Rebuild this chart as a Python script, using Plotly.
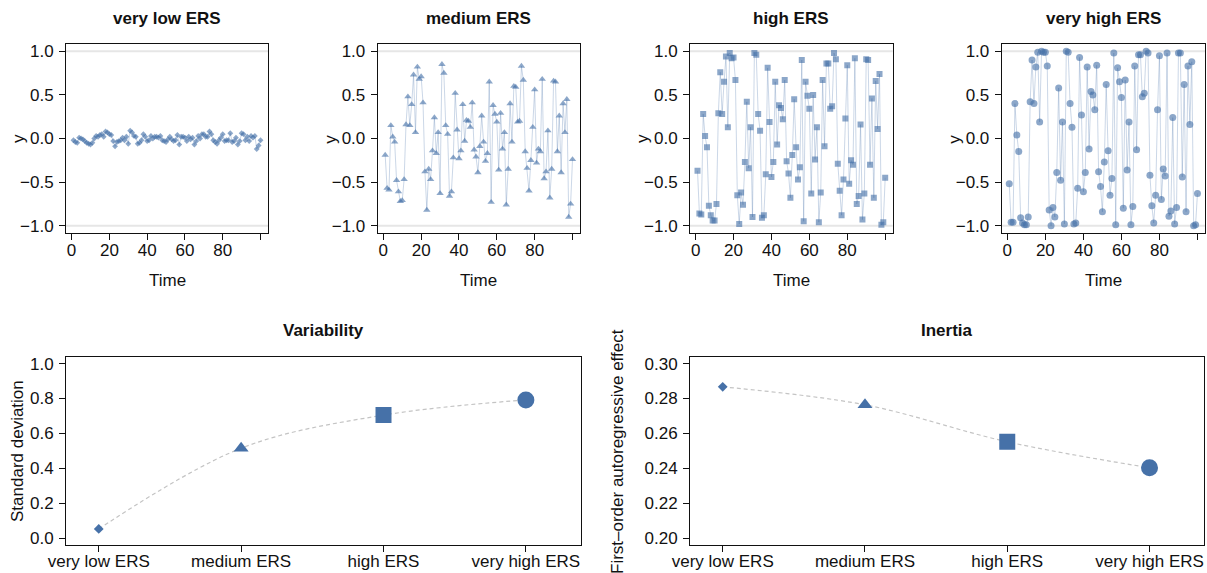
import plotly.graph_objects as go

# ---------------- data ----------------
time = list(range(1, 101))

very_low = [-0.02, -0.04, -0.05, 0.01, 0.00, -0.01, -0.03, -0.05, -0.06, -0.07,
            -0.05, 0.00, 0.03, 0.02, 0.04, 0.05, 0.02, 0.08, 0.07, 0.05,
            0.04, -0.03, -0.09, -0.04, -0.03, -0.02, 0.01, -0.02, 0.02, -0.06,
            0.09, 0.07, 0.03, 0.02, -0.06, -0.05, -0.02, 0.05, 0.02, -0.03,
            -0.02, 0.03, 0.00, 0.02, 0.02, 0.01, 0.03, -0.02, -0.03, -0.04,
            -0.01, 0.02, -0.01, -0.03, -0.02, 0.04, -0.07, 0.02, 0.02, 0.01,
            -0.03, 0.02, -0.01, 0.01, -0.07, -0.03, 0.03, 0.00, 0.05, 0.05,
            0.02, 0.02, 0.08, 0.05, -0.02, -0.04, -0.06, -0.02, 0.01, 0.05,
            -0.03, -0.02, -0.02, 0.06, -0.04, -0.03, 0.01, -0.07, -0.03, 0.06,
            0.05, -0.02, 0.02, -0.03, 0.03, 0.01, 0.03, -0.12, -0.08, -0.02]

medium = [-0.19, -0.57, -0.59, 0.15, 0.02, -0.04, -0.48, -0.61, -0.72, -0.71,
          -0.47, 0.16, 0.48, 0.15, 0.39, 0.73, 0.07, 0.82, 0.68, 0.71,
          0.41, -0.38, -0.82, -0.35, -0.47, -0.14, 0.24, -0.17, 0.07, -0.63,
          0.85, 0.75, 0.15, 0.05, -0.66, -0.61, -0.22, 0.52, 0.10, -0.23,
          -0.14, 0.39, -0.03, 0.21, 0.20, 0.13, 0.41, -0.13, -0.21, -0.39,
          -0.09, 0.26, -0.04, -0.26, -0.17, 0.65, -0.73, 0.38, 0.28, 0.19,
          -0.36, 0.29, -0.12, 0.07, -0.76, -0.35, 0.40, -0.04, 0.60, 0.59,
          0.19, 0.20, 0.83, 0.67, -0.15, -0.34, -0.60, -0.25, 0.13, 0.56,
          -0.28, -0.12, -0.15, 0.68, -0.46, -0.38, 0.09, -0.68, -0.35, 0.66,
          0.65, -0.15, 0.26, -0.39, 0.40, 0.07, 0.45, -0.90, -0.75, -0.24]

high = [-0.37, -0.86, -0.87, 0.28, 0.03, -0.10, -0.77, -0.88, -0.94, -0.94,
        -0.75, 0.29, 0.76, 0.28, 0.65, 0.94, 0.13, 0.98, 0.92, 0.93,
        0.67, -0.65, -0.98, -0.62, -0.76, -0.27, 0.42, -0.34, 0.13, -0.90,
        0.98, 0.96, 0.28, 0.09, -0.91, -0.88, -0.41, 0.81, 0.19, -0.44,
        -0.27, 0.65, -0.07, 0.38, 0.35, 0.22, 0.67, -0.26, -0.40, -0.68,
        -0.19, 0.45, -0.10, -0.47, -0.33, 0.90, -0.95, 0.65, 0.49, 0.34,
        -0.63, 0.50, -0.24, 0.13, -0.96, -0.62, 0.67, -0.09, 0.86, 0.86,
        0.34, 0.37, 0.98, 0.91, -0.29, -0.60, -0.88, -0.47, 0.23, 0.84,
        -0.52, -0.25, -0.30, 0.92, -0.75, -0.66, 0.16, -0.93, -0.63, 0.91,
        0.90, -0.30, 0.46, -0.68, 0.66, 0.11, 0.74, -0.99, -0.96, -0.45]

very_high = [-0.52, -0.96, -0.96, 0.40, 0.04, -0.15, -0.91, -0.97, -0.99, -0.99,
             -0.90, 0.42, 0.90, 0.40, 0.82, 0.99, 0.19, 1.00, 0.99, 0.99,
             0.83, -0.82, -1.00, -0.79, -0.90, -0.39, 0.58, -0.48, 0.19, -0.98,
             1.00, 0.99, 0.40, 0.13, -0.98, -0.97, -0.57, 0.93, 0.27, -0.61,
             -0.39, 0.82, -0.12, 0.54, 0.50, 0.33, 0.84, -0.38, -0.55, -0.84,
             -0.27, 0.62, -0.14, -0.65, -0.46, 0.98, -0.99, 0.81, 0.65, 0.47,
             -0.80, 0.67, -0.36, 0.19, -0.99, -0.78, 0.83, -0.13, 0.96, 0.96,
             0.48, 0.52, 1.00, 0.98, -0.42, -0.77, -0.97, -0.65, 0.33, 0.95,
             -0.70, -0.35, -0.43, 0.98, -0.89, -0.83, 0.24, -0.98, -0.79, 0.98,
             0.98, -0.44, 0.62, -0.84, 0.83, 0.16, 0.88, -1.00, -0.99, -0.63]

ers_levels = ["very low ERS", "medium ERS", "high ERS", "very high ERS"]
sd_values = [0.052, 0.515, 0.705, 0.792]
ar_values = [0.2867, 0.2764, 0.2552, 0.2403]

series = [very_low, medium, high, very_high]
top_symbols = ["diamond", "triangle-up", "square", "circle"]
top_sizes = [4.5, 6.5, 6, 7]
bottom_sizes = [7.5, 13, 16, 17]

time_ticks = [0, 20, 40, 60, 80, 100]
time_ticktext = ["0", "20", "40", "60", "80", ""]
y_ticks = [-1.0, -0.5, 0.0, 0.5, 1.0]
y_ticktext = ["\u22121.0", "\u22120.5", "0.0", "0.5", "1.0"]
sd_ticks = [0.0, 0.2, 0.4, 0.6, 0.8, 1.0]
ar_ticks = [0.20, 0.22, 0.24, 0.26, 0.28, 0.30]

# ---------------- layout geometry ----------------
W, H = 1207, 573
FONT = "Liberation Sans, Arial, Helvetica, sans-serif"
BLUE = "#4671a8"
PT_COL = "rgba(70,113,168,0.62)"
LN_COL = "rgba(70,113,168,0.28)"


def px_x(p):
    return p / W


def px_y(p):
    return 1 - p / H


top_boxes = [(66, 268), (377.7, 580), (690, 892.7), (1001.7, 1205)]
top_y = (44.3, 232.7)
bot_boxes = [(66, 580.7), (690, 1204.3)]
bot_y = (356.7, 545)

fig = go.Figure()

tickfont = dict(family=FONT, size=17, color="#111")
axis_common = dict(showline=True, mirror=True, linecolor="#111", linewidth=1,
                   ticks="outside", ticklen=6, tickcolor="#111", tickwidth=1,
                   showgrid=False, zeroline=False, tickfont=tickfont,
                   automargin=False)

annotations = []
shapes = []

for i, (vals, sym, sz) in enumerate(zip(series, top_symbols, top_sizes)):
    n = i + 1
    xa = "x" if n == 1 else f"x{n}"
    ya = "y" if n == 1 else f"y{n}"
    fig.add_trace(go.Scatter(
        x=time, y=vals, mode="lines+markers", xaxis=xa, yaxis=ya,
        line=dict(color=LN_COL, width=1),
        marker=dict(symbol=sym, size=sz, color=PT_COL, line=dict(width=0)),
        showlegend=False, hoverinfo="x+y"))
    x0, x1 = top_boxes[i]
    fig.layout[f"xaxis{'' if n == 1 else n}"] = dict(
        domain=[px_x(x0), px_x(x1)], anchor=ya, range=[-2.96, 103.96],
        tickvals=time_ticks, ticktext=time_ticktext, ticklabelstandoff=-4,
        **axis_common)
    fig.layout[f"yaxis{'' if n == 1 else n}"] = dict(
        domain=[px_y(top_y[1]), px_y(top_y[0])], anchor=xa, range=[-1.08, 1.08],
        tickvals=y_ticks, ticktext=y_ticktext, ticklabelstandoff=2, **axis_common)
    for yv in (-1, 1):
        shapes.append(dict(type="line", xref=f"{xa} domain", yref=ya,
                           x0=0, x1=1, y0=yv, y1=yv, layer="below",
                           line=dict(color="#e6e6e6", width=2)))
    cx = (x0 + x1) / 2
    annotations.append(dict(text="<b>" + ers_levels[i] + "</b>", x=px_x(cx), y=px_y(18),
                            xref="paper", yref="paper", showarrow=False,
                            xanchor="center", yanchor="middle",
                            font=dict(family=FONT, size=17, color="#111")))
    annotations.append(dict(text="Time", x=px_x(cx), y=px_y(280),
                            xref="paper", yref="paper", showarrow=False,
                            xanchor="center", yanchor="middle",
                            font=dict(family=FONT, size=17, color="#111")))
    annotations.append(dict(text="y", x=px_x(x0 - 48), y=px_y(139),
                            xref="paper", yref="paper", showarrow=False,
                            textangle=-90, xanchor="center", yanchor="middle",
                            font=dict(family=FONT, size=17, color="#111")))

# bottom panels
bottom_data = [sd_values, ar_values]
bottom_titles = ["Variability", "Inertia"]
bottom_ylabels = ["Standard deviation", "First\u2013order autoregressive effect"]
bottom_yranges = [[-0.04, 1.04], [0.196, 0.304]]
bottom_ticks = [(sd_ticks, [f"{v:.1f}" for v in sd_ticks]),
                (ar_ticks, [f"{v:.2f}" for v in ar_ticks])]
bottom_ylabel_x = [17, 617]

for j in range(2):
    n = 5 + j
    xa, ya = f"x{n}", f"y{n}"
    vals = bottom_data[j]
    fig.add_trace(go.Scatter(
        x=ers_levels, y=vals, mode="lines", xaxis=xa, yaxis=ya,
        line=dict(color="#c4c4c4", width=1.2, dash="4px,3px", shape="spline", smoothing=1),
        showlegend=False, hoverinfo="skip"))
    for k in range(4):
        fig.add_trace(go.Scatter(
            x=[ers_levels[k]], y=[vals[k]], mode="markers", xaxis=xa, yaxis=ya,
            marker=dict(symbol=top_symbols[k], size=bottom_sizes[k], color=BLUE,
                        line=dict(width=0)),
            showlegend=False, hoverinfo="x+y"))
    x0, x1 = bot_boxes[j]
    fig.layout[f"xaxis{n}"] = dict(
        domain=[px_x(x0), px_x(x1)], anchor=ya, type="category",
        categoryorder="array", categoryarray=ers_levels,
        range=[-0.23, 3.385], ticklabelstandoff=-5, **axis_common)
    tv, tt = bottom_ticks[j]
    fig.layout[f"yaxis{n}"] = dict(
        domain=[px_y(bot_y[1]), px_y(bot_y[0])], anchor=xa,
        range=bottom_yranges[j], tickvals=tv, ticktext=tt, ticklabelstandoff=2,
        **axis_common)
    cx = (x0 + x1) / 2
    annotations.append(dict(text="<b>" + bottom_titles[j] + "</b>", x=px_x(cx), y=px_y(330),
                            xref="paper", yref="paper", showarrow=False,
                            xanchor="center", yanchor="middle",
                            font=dict(family=FONT, size=17, color="#111")))
    annotations.append(dict(text=bottom_ylabels[j], x=px_x(bottom_ylabel_x[j]), y=px_y(451),
                            xref="paper", yref="paper", showarrow=False,
                            textangle=-90, xanchor="center", yanchor="middle",
                            font=dict(family=FONT, size=17, color="#111")))

fig.update_layout(
    width=W, height=H,
    margin=dict(l=0, r=0, t=0, b=0, pad=0, autoexpand=False),
    paper_bgcolor="white", plot_bgcolor="white",
    font=dict(family=FONT, color="#111"),
    annotations=annotations, shapes=shapes,
    showlegend=False,
)

fig.write_html("out.html", config={"displayModeBar": False},
               post_script="document.body.style.margin='0';document.body.style.overflow='hidden';")
